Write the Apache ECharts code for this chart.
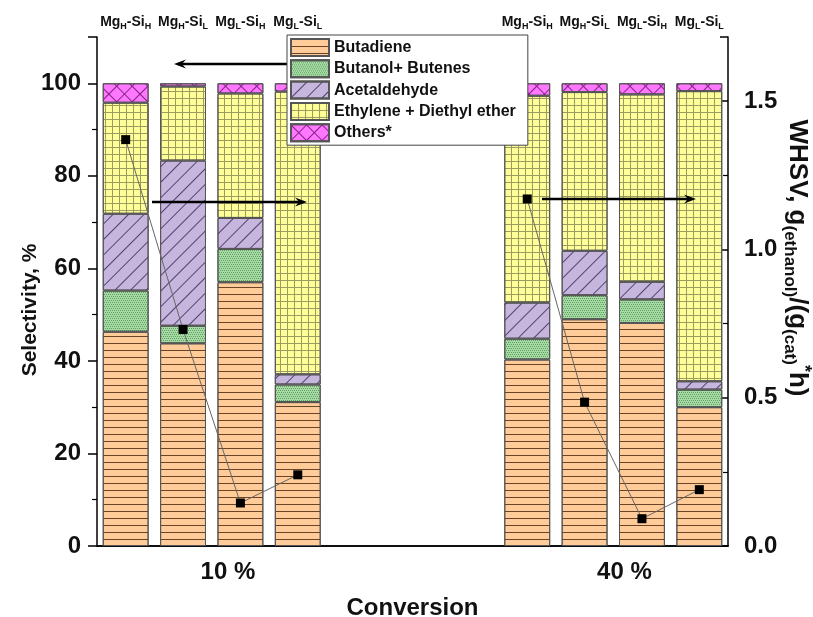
<!DOCTYPE html>
<html><head><meta charset="utf-8">
<script src="https://cdn.jsdelivr.net/npm/echarts@6/dist/echarts.min.js"></script>
<style>html,body{margin:0;padding:0;background:#fff}#c{width:813px;height:617px}</style>
</head><body><div id="c"></div>
<script>
// ---- data ----
const catalysts = [['H','H'],['H','L'],['L','H'],['L','L']]; // [Mg level, Si level]
const conversions = ['10 %', '40 %'];
const gapSlots = 3;
const seriesNames = ['Butadiene', 'Butanol+ Butenes', 'Acetaldehyde', 'Ethylene + Diethyl ether', 'Others*'];
const butadiene      = [46.3, 43.8, 57.0, 31.1, 40.3, 49.0, 48.2, 30.0];
const butanolButenes = [8.9, 3.8, 7.2, 3.8, 4.5, 5.2, 5.1, 3.8];
const acetaldehyde   = [16.6, 35.7, 6.7, 2.2, 7.8, 9.6, 3.8, 1.8];
const ethyleneDEE    = [24.0, 16.0, 26.9, 61.1, 44.7, 34.3, 40.5, 62.7];
const others         = [4.2, 0.7, 2.2, 1.8, 2.7, 1.9, 2.4, 1.7];
const whsv           = [1.37, 0.73, 0.145, 0.24, 1.17, 0.485, 0.092, 0.19];
const leftTickLabels = [0, 20, 40, 60, 80, 100];
const rightTickLabels = ['0.0', '0.5', '1.0', '1.5'];

// ---- build slots ----
const slots = [];
conversions.forEach((cv, g) => {
  if (g > 0) for (let k = 0; k < gapSlots; k++) slots.push(null);
  catalysts.forEach(c => slots.push({ conv: g, cat: c }));
});
const catNames = slots.map((s, i) => s ? conversions[s.conv] + ' Mg' + s.cat[0] + '-Si' + s.cat[1] : 'gap' + i);
function spread(arr) { let j = 0; return slots.map(s => s ? arr[j++] : null); }
const convLabelIdx = {};
conversions.forEach((cv, g) => { const first = slots.findIndex(s => s && s.conv === g); convLabelIdx[first + 2] = g; });

const FF = '"Liberation Sans", Arial, sans-serif';
const decals = [
  { symbol: 'rect', symbolSize: 1, dashArrayX: [1, 0], dashArrayY: [1, 6], color: 'rgba(80,45,15,0.85)' },
  { symbol: 'rect', symbolSize: 1, dashArrayX: [[1, 1], [0, 1, 1, 0]], dashArrayY: [1, 1], color: 'rgba(40,110,40,0.55)' },
  { symbol: 'rect', symbolSize: 1, dashArrayX: [1, 0], dashArrayY: [1, 10], rotation: -Math.PI / 4, color: 'rgba(60,45,90,0.85)' },
  { symbol: 'rect', symbolSize: 1, dashArrayX: [[1, 0], [1, 6]], dashArrayY: [1, 0, 6, 0], color: 'rgba(90,90,60,0.6)' },
  { symbol: 'rect', symbolSize: 1, dashArrayX: [[1, 0], [1, 10]], dashArrayY: [1, 0, 10, 0], rotation: Math.PI / 4, color: 'rgba(110,20,110,0.85)' }
];
const colors = ['#FFCC99', '#A6DBA6', '#C6B6DE', '#FFFF99', '#FF77FF'];
const values = [butadiene, butanolButenes, acetaldehyde, ethyleneDEE, others];

const barSeries = seriesNames.map((n, i) => ({
  name: n, type: 'bar', stack: 'sel', barWidth: '80%', xAxisIndex: 0, yAxisIndex: 0,
  data: spread(values[i]),
  itemStyle: { color: colors[i], borderColor: '#555', borderWidth: 1, decal: decals[i] },
  emphasis: { disabled: true }, z: 2
}));

function arrow(x1, y, x2) {
  const dir = Math.sign(x2 - x1), head = 12, hw = 4.5;
  return [
    { type: 'line', z: 20, shape: { x1: x1, y1: y, x2: x2 - dir * head * 0.6, y2: y }, style: { stroke: '#000', lineWidth: 2.5 } },
    { type: 'polygon', z: 20, shape: { points: [[x2, y], [x2 - dir * head, y - hw], [x2 - dir * head * 0.65, y], [x2 - dir * head, y + hw]] }, style: { fill: '#000' } }
  ];
}

const chart = echarts.init(document.getElementById('c'));
chart.setOption({
  animation: false,
  backgroundColor: '#fff',
  grid: { left: 97, right: 85, top: 37, bottom: 71, outerBoundsMode: 'none', containLabel: false },
  legend: {
    orient: 'vertical', left: 287, top: 35, z: 30,
    data: seriesNames, icon: 'rect', itemWidth: 38, itemHeight: 17, itemGap: 2.3,
    padding: [3, 12, 3, 3], backgroundColor: '#fff', borderColor: '#444', borderWidth: 1,
    textStyle: { fontSize: 16, fontWeight: 'bold', color: '#111', fontFamily: FF, lineHeight: 17 },
    selectedMode: false
  },
  xAxis: [
    {
      type: 'category', data: catNames, position: 'bottom',
      axisLine: { lineStyle: { color: '#000', width: 1.5 } }, axisTick: { show: false },
      name: 'Conversion', nameLocation: 'middle', nameGap: 50,
      nameTextStyle: { fontSize: 24, fontWeight: 'bold', color: '#111', fontFamily: FF },
      axisLabel: {
        interval: 0, margin: 14,
        formatter: (v, i) => (i in convLabelIdx) ? '{g' + convLabelIdx[i] + '|' + conversions[convLabelIdx[i]] + '}' : '',
        rich: {
          g0: { fontSize: 24, fontWeight: 'bold', color: '#111', fontFamily: FF, padding: [0, 25, 0, 0] },
          g1: { fontSize: 24, fontWeight: 'bold', color: '#111', fontFamily: FF, padding: [0, 35, 0, 0] }
        }
      }
    },
    {
      type: 'category', data: catNames, position: 'top',
      axisLine: { lineStyle: { color: '#000', width: 1.5 } }, axisTick: { show: false },
      axisLabel: {
        interval: 0, margin: 6,
        formatter: (v, i) => {
          const s = slots[i]; if (!s) return '';
          return '{m|Mg}{s|' + s.cat[0] + '}{m|-Si}{s|' + s.cat[1] + '}';
        },
        rich: {
          m: { fontSize: 14, fontWeight: 'bold', color: '#111', fontFamily: FF, lineHeight: 18, verticalAlign: 'middle' },
          s: { fontSize: 9, fontWeight: 'bold', color: '#111', fontFamily: FF, verticalAlign: 'bottom' }
        }
      }
    }
  ],
  yAxis: [
    {
      type: 'value', min: 0, max: 110, interval: 20, position: 'left',
      axisLine: { show: true, lineStyle: { color: '#000', width: 1.5 } },
      axisTick: { show: true, inside: false, length: 9, lineStyle: { color: '#000', width: 1.5 } },
      minorTick: { show: true, splitNumber: 2, length: 5, lineStyle: { color: '#000', width: 1.2 } },
      splitLine: { show: false },
      axisLabel: {
        margin: 16, fontSize: 24, fontWeight: 'bold', color: '#111', fontFamily: FF,
        formatter: v => leftTickLabels.indexOf(v) >= 0 ? String(v) : ''
      }
    },
    {
      type: 'value', min: 0, max: 1.716, interval: 0.5, position: 'right',
      axisLine: { show: true, lineStyle: { color: '#000', width: 1.5 } },
      axisTick: { show: true, inside: true, length: 8, lineStyle: { color: '#000', width: 1.5 } },
      minorTick: { show: true, splitNumber: 2, length: 5, lineStyle: { color: '#000', width: 1.2 } },
      splitLine: { show: false },
      axisLabel: {
        margin: 16, fontSize: 24, fontWeight: 'bold', color: '#111', fontFamily: FF,
        formatter: v => { const t = v.toFixed(1); return (rightTickLabels.indexOf(t) >= 0 && Math.abs(v - parseFloat(t)) < 1e-6) ? t : ''; }
      }
    }
  ],
  series: barSeries.concat([{
    name: 'WHSV', type: 'line', xAxisIndex: 0, yAxisIndex: 1,
    data: spread(whsv), connectNulls: false,
    symbol: 'rect', symbolSize: 9, itemStyle: { color: '#000' },
    lineStyle: { color: '#666', width: 1 }, z: 5, emphasis: { disabled: true }
  }]),
  graphic: [
    ...arrow(290, 64, 174),
    ...arrow(152, 202, 307),
    ...arrow(542, 199, 696),
    { type: 'text', x: 30, y: 310, rotation: Math.PI / 2, z: 20,
      style: { text: 'Selectivity, %', font: 'bold 21px ' + FF, fill: '#111', align: 'center', verticalAlign: 'middle' } },
    { type: 'text', x: 797, y: 258, rotation: -Math.PI / 2, z: 20,
      style: {
        text: '{a|WHSV, g}{s|(ethanol)}{a|/(g}{s|(cat)}{p|*}{a|h)}',
        align: 'center', verticalAlign: 'middle', fill: '#111',
        rich: {
          a: { fontSize: 26, fontWeight: 'bold', fontFamily: FF, fill: '#111', lineHeight: 32, verticalAlign: 'middle' },
          s: { fontSize: 17, fontWeight: 'bold', fontFamily: FF, fill: '#111', verticalAlign: 'bottom' },
          p: { fontSize: 18, fontWeight: 'bold', fontFamily: FF, fill: '#111', verticalAlign: 'top' }
        }
      } }
  ]
});
</script></body></html>
